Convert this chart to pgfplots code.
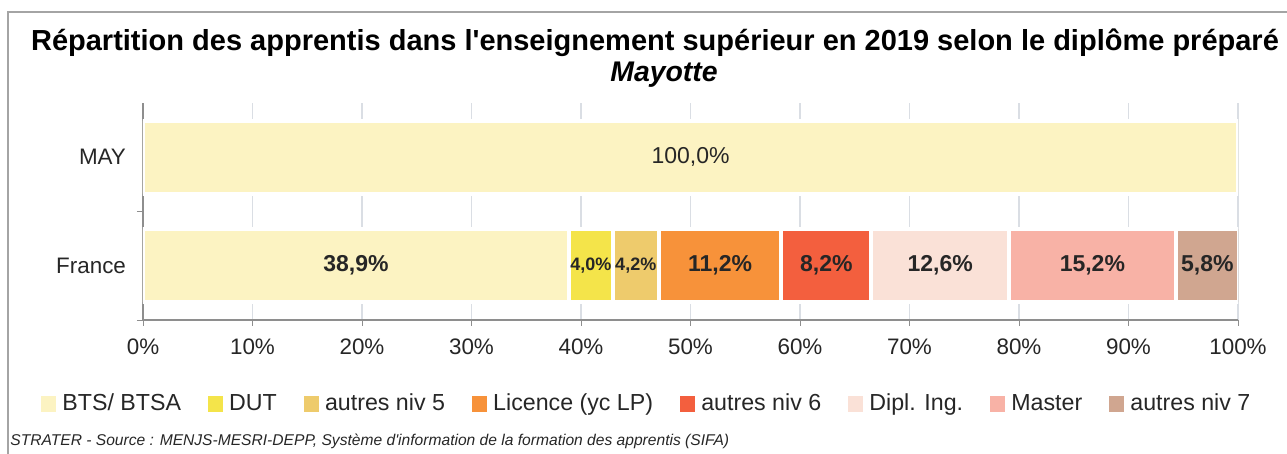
\documentclass[border=0pt]{standalone}
\usepackage{pgfplots}
\pgfplotsset{compat=1.18}
\usepackage{fontspec}
\setmainfont{Liberation Sans}[Ligatures=TeXOff]

\definecolor{cBTS}{HTML}{FCF3C2}
\definecolor{cDUT}{HTML}{F4E44A}
\definecolor{cAN5}{HTML}{EECB6C}
\definecolor{cLIC}{HTML}{F7923A}
\definecolor{cAN6}{HTML}{F35F3E}
\definecolor{cING}{HTML}{FAE1D7}
\definecolor{cMAS}{HTML}{F8B2A6}
\definecolor{cAN7}{HTML}{D0A690}
\definecolor{gridc}{HTML}{DADEE4}
\definecolor{axisc}{HTML}{8E8E8E}
\definecolor{labc}{HTML}{262626}

\begin{document}
\begin{tikzpicture}[x=0.5pt,y=0.5pt]
\useasboundingbox (0,0) rectangle (1287,454);
\draw[axisc!80, line width=0.8pt] (8,0) -- (8,442) -- (1287,442);
\node[font=\bfseries\fontsize{14.5}{16}\selectfont] at (655,411)
  {Répartition des apprentis dans l'enseignement supérieur en 2019 selon le diplôme préparé};
\node[font=\bfseries\itshape\fontsize{14.2}{16}\selectfont] at (664,379) {Mayotte};
\node[anchor=west, inner sep=0pt, font=\itshape\fontsize{7.8}{9}\selectfont, text=labc] at (10,13)
  {STRATER - Source : MENJS-MESRI-DEPP, Système d'information de la formation des apprentis (SIFA)};

\begin{axis}[
  at={(71.5pt,67pt)}, anchor=south west,
  width=547.5pt, height=108.5pt, scale only axis,
  xbar stacked, bar width=0.67,
  xmin=0, xmax=100, ymin=-0.5, ymax=1.5,
  xtick={0,10,...,100},
  xticklabel={\pgfmathprintnumber{\tick}\%},
  ytick={0,1}, yticklabels={France,MAY},
  extra y ticks={-0.5,0.5}, extra y tick labels={},
  extra y tick style={grid=none, ytick style={draw=axisc}},
  major tick length=3pt,
  ytick style={draw=none},
  xtick style={draw=axisc},
  tick align=outside,
  axis x line*=bottom, axis y line*=left,
  axis line style={axisc, line width=0.6pt},
  xmajorgrids, grid style={gridc, line width=0.6pt},
  tick label style={font=\fontsize{11.2}{13}\selectfont, text=labc},
  /pgf/number format/assume math mode=true,
  xticklabel style={yshift=-3pt},
  yticklabel style={xshift=-2pt},
  legend columns=8,
  legend style={at={(0.461,-0.387)}, anchor=center, draw=none, fill=none,
    font=\fontsize{11.6}{13}\selectfont, text=labc,
    /tikz/every odd column/.append style={column sep=1pt},
    /tikz/every even column/.append style={column sep=11.5pt}},
  legend image code/.code={\fill[#1,draw=none] (0pt,-3.8pt) rectangle (7.6pt,3.8pt);},
  every axis plot/.append style={draw=white, line width=2pt},
]
\addplot[fill=cBTS] coordinates {(38.9,0) (100,1)};
\addlegendentry{BTS/ BTSA}
\addplot[fill=cDUT] coordinates {(4.0,0) (0,1)};
\addlegendentry{DUT}
\addplot[fill=cAN5] coordinates {(4.2,0) (0,1)};
\addlegendentry{autres niv 5}
\addplot[fill=cLIC] coordinates {(11.2,0) (0,1)};
\addlegendentry{Licence (yc LP)}
\addplot[fill=cAN6] coordinates {(8.2,0) (0,1)};
\addlegendentry{autres niv 6}
\addplot[fill=cING] coordinates {(12.6,0) (0,1)};
\addlegendentry{Dipl. Ing.}
\addplot[fill=cMAS] coordinates {(15.2,0) (0,1)};
\addlegendentry{Master}
\addplot[fill=cAN7] coordinates {(5.8,0) (0,1)};
\addlegendentry{autres niv 7}
\end{axis}

\begin{axis}[
  at={(71.5pt,67pt)}, anchor=south west,
  width=547.5pt, height=108.5pt, scale only axis,
  xmin=0, xmax=100, ymin=-0.5, ymax=1.5,
  hide axis,
  nodes near coords, point meta=explicit symbolic,
  every node near coord/.append style={anchor=center, text=labc, inner sep=0pt},
]
\addplot[only marks, mark=none, nodes near coords style={font=\bfseries\fontsize{11.5}{13}\selectfont}]
  coordinates {(19.45,0) [{38,9\%}] (52.7,0) [{11,2\%}] (62.4,0) [{8,2\%}]
               (72.8,0) [{12,6\%}] (86.7,0) [{15,2\%}] (97.2,0) [{5,8\%}]};
\addplot[only marks, mark=none, nodes near coords style={font=\bfseries\fontsize{9}{10}\selectfont}]
  coordinates {(40.9,0) [{4,0\%}] (45.0,0) [{4,2\%}]};
\addplot[only marks, mark=none, nodes near coords style={font=\fontsize{11.5}{13}\selectfont}]
  coordinates {(50,1) [{100,0\%}]};
\end{axis}
\end{tikzpicture}
\end{document}
